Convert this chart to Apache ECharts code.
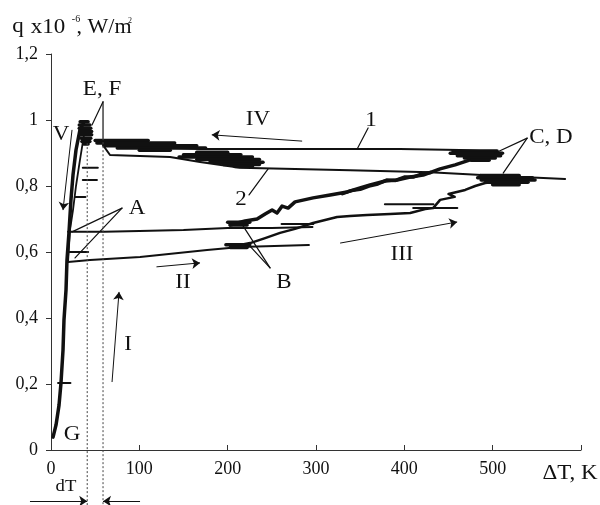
<!DOCTYPE html>
<html><head><meta charset="utf-8">
<script src="https://cdn.jsdelivr.net/npm/echarts@6/dist/echarts.min.js"></script>
<style>html,body{margin:0;padding:0;background:#fff}#c{width:600px;height:505px}</style>
</head><body><div id="c"></div>
<script>
// ---- data (ΔT in K, q in 10^-6 W/m2) ----
const xTicks = [0, 100, 200, 300, 400, 500, 600];
const yTicks = [0, 0.2, 0.4, 0.6, 0.8, 1, 1.2];
const curveGE = [[2.3,0.039],[5.7,0.076],[9.1,0.136],[11.3,0.203],[13.6,0.303],[14.7,0.394],[17,0.485],[18.1,0.576],[20.4,0.661],[22.6,0.758],[24.9,0.833],[28.3,0.909],[32.8,0.97],[37.4,0.994]];
const curveV = [[37.4,0.955],[32.8,0.879],[28.3,0.8],[24.9,0.727],[21.5,0.667],[19.3,0.57]];
const line1 = [[58.9,0.933],[66.8,0.927],[78,0.924],[112,0.918],[169,0.912],[282,0.912],[395,0.912],[463,0.909],[486,0.906],[512,0.9]];
const line2 = [[58.9,0.924],[66.8,0.894],[134.8,0.888],[168.7,0.873],[214,0.855],[338.6,0.848],[429.2,0.842],[508.5,0.83],[582,0.821]];
const lineAUpper = [[19.3,0.661],[60,0.661],[100,0.664],[150,0.667],[200,0.673],[250,0.673],[296,0.676]];
const lineAMid = [[21,0.6],[42,0.6]];
const lineALower = [[19.3,0.57],[44.2,0.576],[100.8,0.585],[176.7,0.606],[214,0.615],[292,0.621]];
const bandBC = [[202.7,0.682],[219.7,0.694],[233.3,0.7],[242.4,0.715],[250.3,0.727],[255.9,0.718],[261.6,0.739],[268.4,0.733],[276.3,0.752],[296.7,0.764],[316,0.773],[335.2,0.782],[349.9,0.794],[361.2,0.803],[378.3,0.815],[391.8,0.818],[406.6,0.827],[421.3,0.833],[440.5,0.852],[457.5,0.864],[474.5,0.879],[491.5,0.888],[506.2,0.897]];
const bandBCthick = [[330,0.777],[340,0.786],[350,0.79],[360,0.8],[370,0.806],[380,0.818],[390,0.817],[400,0.827],[410,0.827],[420,0.837],[430,0.841]];
const bandBD = [[214,0.621],[225.4,0.627],[242.4,0.642],[259.3,0.658],[276.3,0.67],[296.7,0.688],[310.3,0.697],[323.9,0.706],[338.6,0.709],[357.9,0.712],[383.9,0.715],[406.6,0.718],[423.6,0.73],[432.6,0.733],[440.5,0.758],[457,0.767],[450,0.776],[468.9,0.788],[480.2,0.8],[491.5,0.809],[508.5,0.815]];
const stubs = [[[378,0.745],[433,0.745]],[[410,0.733],[460,0.733]],[[261,0.685],[297,0.685]],[[36,0.855],[53,0.855]],[[36,0.818],[52,0.818]],[[27,0.767],[39,0.767]],[[8,0.203],[22,0.203]]];
// noisy (dense) regions: horizontal strokes [xStart, xEnd, q]
const blobE = [[33,42,0.995],[32,44,0.985],[32,45,0.975],[33,46,0.965],[33,46,0.955],[34,45,0.945],[35,44,0.935],[37,42,0.927]];
const blobBand = [[50,110,0.938],[52,140,0.93],[60,165,0.922],[75,175,0.915],[100,135,0.908]];
const blobBow = [[165,200,0.902],[150,215,0.895],[145,228,0.888],[165,236,0.88],[180,240,0.872],[195,236,0.865],[208,228,0.859]];
const blobC = [[455,505,0.906],[452,511,0.899],[460,509,0.892],[468,503,0.885],[476,496,0.878]];
const blobD = [[486,530,0.832],[483,545,0.825],[487,548,0.818],[492,540,0.811],[500,530,0.804]];
const blobB = [[200,225,0.69],[203,222,0.682],[198,225,0.622],[203,222,0.614]];
const pointers = [[[58.9,1.055],[46.4,0.985]],[[58.9,1.055],[58.9,0.945]],[[80.4,0.733],[23.8,0.661]],[[80.4,0.733],[27.2,0.582]],[[248,0.552],[217.4,0.679]],[[248,0.552],[223.1,0.624]],[[539.1,0.945],[502.8,0.9]],[[539.1,0.945],[511.9,0.839]],[[359,0.976],[346.6,0.912]],[[245.8,0.852],[224.2,0.773]]];
const dashes = [[[41,0.93],[41,-0.17]],[[58.9,0.945],[58.9,-0.17]]];
const arrows = [[[284.3,0.936],[182,0.955]],[[23.8,0.97],[13.6,0.727]],[[119.4,0.555],[168.7,0.567]],[[327.3,0.627],[459.8,0.691]],[[69.1,0.206],[77,0.479]],[[-23.8,-0.155],[41,-0.155]],[[100.8,-0.155],[58.9,-0.155]]];

const SERIF = "'Liberation Serif', 'Times New Roman', serif";
const INK = '#111';
function ls(data, width, extra) {
  return Object.assign({type:'line', data:data, showSymbol:false, symbol:'none', clip:false, silent:true,
    animation:false, lineStyle:{color:INK, width:width, join:'round', cap:'round'}, emphasis:{disabled:true}, z:3}, extra||{});
}
const series = [];
series.push(ls(curveGE, 3.5));
series.push(ls(curveV, 1.8));
series.push(ls(line1, 2));
series.push(ls(line2, 2));
series.push(ls(lineAUpper, 2));
series.push(ls(lineAMid, 2));
series.push(ls(lineALower, 2));
series.push(ls(bandBC, 3.5));
series.push(ls(bandBCthick, 3.5));
series.push(ls(bandBD, 2.5));
stubs.forEach(s => series.push(ls(s, 2)));
[blobE, blobBand, blobBow, blobC, blobD, blobB].forEach(b =>
  b.forEach(s => series.push(ls([[s[0], s[2]], [s[1], s[2]]], 3.5))));
pointers.forEach(p => series.push(ls(p, 1.2)));
dashes.forEach(d => series.push(ls(d, 1, {lineStyle:{color:'#444', width:1, type:[2,2]}})));
series.push({type:'lines', coordinateSystem:'cartesian2d', clip:false, silent:true, animation:false,
  symbol:['none','arrow'], symbolSize:8, polyline:false,
  lineStyle:{color:INK, width:1, opacity:1, curveness:0},
  data: arrows.map(a => ({coords:a}))});

function txt(t, x, y, size, sx) {
  return {type:'text', x:x, y:y, scaleX: sx||1.15, z:10, silent:true,
    style:{text:t, fill:INK, font: size + 'px ' + SERIF, textAlign:'center', textVerticalAlign:'middle'}};
}
const graphics = [
  txt('q', 18, 27, 20), txt('x10', 48, 28, 20), txt('-6', 76, 19, 10, 1), txt(', W/m', 104, 28, 20, 1.1), txt('2', 130, 21, 8, 1),
  txt('E, F', 102, 90, 20), txt('V', 61, 135, 20), txt('IV', 258, 120, 20), txt('1', 371, 121, 20),
  txt('C, D', 551, 138, 20), txt('2', 241, 200, 20), txt('A', 137, 209, 20), txt('B', 284, 283, 20),
  txt('II', 183, 283, 20), txt('III', 402, 255, 20), txt('I', 128, 345, 20), txt('G', 72, 435, 20),
  txt('dT', 66, 487, 17, 1.1), txt('ΔT, K', 570, 474, 20)
];

const chart = echarts.init(document.getElementById('c'), null, {renderer:'canvas'});
chart.setOption({
  backgroundColor:'#fff',
  animation:false,
  grid:{left:51, right:19, top:54, bottom:55, containLabel:false},
  xAxis:{type:'value', min:xTicks[0], max:xTicks[xTicks.length-1], interval:100,
    axisLine:{lineStyle:{color:'#333', width:1}},
    axisTick:{inside:true, length:5, lineStyle:{color:'#333'}},
    splitLine:{show:false},
    axisLabel:{margin:10, color:INK, fontFamily:SERIF, fontSize:18,
      formatter: v => v === 600 ? '' : String(v)}},
  yAxis:{type:'value', min:yTicks[0], max:yTicks[yTicks.length-1], interval:0.2,
    axisLine:{show:true, lineStyle:{color:'#333', width:1}},
    axisTick:{show:true, inside:false, length:5, lineStyle:{color:'#333'}},
    splitLine:{show:false},
    axisLabel:{margin:13, color:INK, fontFamily:SERIF, fontSize:18,
      formatter: v => String(Math.round(v*10)/10).replace('.', ',')}},
  graphic: graphics,
  series: series
});
</script></body></html>
